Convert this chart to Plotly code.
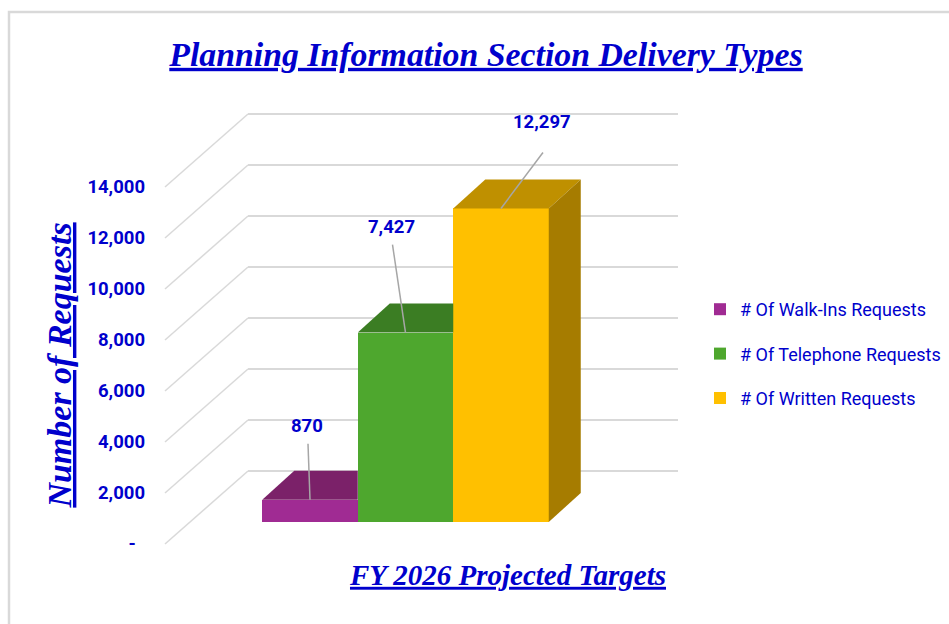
import plotly.graph_objects as go

SERIES = ["# Of Walk-Ins Requests", "# Of Telephone Requests", "# Of Written Requests"]
VALUES = [870, 7427, 12297]
FRONT = ["#A02B93", "#4EA72E", "#FFC000"]
TOP = ["#7B2169", "#3B7D23", "#BF9000"]
SIDE = ["#6E1E63", "#347020", "#A67C00"]
TICKS = [0, 2000, 4000, 6000, 8000, 10000, 12000, 14000]
TICK_TEXT = ["-\u00a0\u00a0", "2,000", "4,000", "6,000", "8,000", "10,000", "12,000", "14,000"]
TITLE = "Planning Information Section Delivery Types"
X_TITLE = "FY 2026 Projected Targets"
Y_TITLE = "Number of Requests"

W, H = 949, 624
ML, MR, MT, MB = 150, 83, 106, 0
ZERO_PX = 544
BLUE = "#0000CC"
SERIF = "Liberation Serif"
SANS = "Roboto"
GRID = "#D9D9D9"

PX_X = 95.5            # pixels per category
PX_Y = 357 / 14000
X0_PX = 310            # pixel of the first bar's centre
ux = lambda px: px / PX_X
uy = lambda px: px / PX_Y
x_of = lambda px: (px - X0_PX) / PX_X
y_of = lambda px: (ZERO_PX - px) / PX_Y

BAR_BASE = uy(22)
BAR_DX, BAR_DY = ux(32), uy(29)
WALL_DX, WALL_DY = ux(83), uy(73)
FLOOR_L, FLOOR_R = x_of(165), x_of(595)

LEADERS = [(-2, -56, -3, -74), (-13, -88, -14, -106), (42, -56, 41, -86)]  # leader end dx,dy; label dx,dy (px)

fig = go.Figure()
n = len(VALUES)
xs = list(range(n))

for i, (name, v) in enumerate(zip(SERIES, VALUES)):
    fig.add_bar(x=[xs[i]], y=[v], base=BAR_BASE, width=1, name=name, marker=dict(color=FRONT[i], line=dict(width=0)),
                legendgroup=name, hoverinfo="name+y")

for i, v in enumerate(VALUES):
    top = BAR_BASE + v
    xl, xr = xs[i] - .5, xs[i] + .5
    hidden = i < n - 1 and VALUES[i + 1] > v
    xr_back = xr if hidden else xr + BAR_DX
    fig.add_scatter(x=[xl, xr, xr_back, xl + BAR_DX, xl], y=[top, top, top + BAR_DY, top + BAR_DY, top],
                    mode="lines", fill="toself", fillcolor=TOP[i], line=dict(width=0), showlegend=False,
                    hoverinfo="skip")
    if not hidden:
        fig.add_scatter(x=[xr, xr + BAR_DX, xr + BAR_DX, xr, xr],
                        y=[top, top + BAR_DY, BAR_BASE + BAR_DY, BAR_BASE, top],
                        mode="lines", fill="toself", fillcolor=SIDE[i], line=dict(width=0), showlegend=False,
                        hoverinfo="skip")

annotations = []
for i, v in enumerate(VALUES):
    top = BAR_BASE + v
    dx, dy, lx, ly = LEADERS[i]
    fig.add_scatter(x=[xs[i], xs[i] + ux(dx)], y=[top, top - uy(dy)], mode="lines",
                    line=dict(color="#A6A6A6", width=1.5), showlegend=False, hoverinfo="skip")
    annotations.append(dict(x=xs[i], y=top, xref="x", yref="y", text=f"<b>{v:,}</b>", showarrow=False,
                            xshift=lx, yshift=-ly, font=dict(family=SANS, size=18.5, color=BLUE)))

shapes = []
for t in TICKS:
    shapes.append(dict(type="line", xref="x", yref="y", x0=FLOOR_L, y0=t, x1=FLOOR_L + WALL_DX, y1=t + WALL_DY,
                       line=dict(color=GRID, width=1.5), layer="below"))
    shapes.append(dict(type="line", xref="x", yref="y", x0=FLOOR_L + WALL_DX, y0=t + WALL_DY, x1=FLOOR_R + WALL_DX,
                       y1=t + WALL_DY, line=dict(color=GRID, width=2), layer="below"))

px = lambda p: (p - ML) / (W - ML - MR)
py = lambda p: 1 - (p - MT) / (H - MT - MB)
shapes.append(dict(type="rect", xref="paper", yref="paper", x0=px(9), x1=px(W + 10), y0=py(H + 10), y1=py(12),
                   line=dict(color="#D9D9D9", width=2.5), layer="below"))

def serif(size):
    return dict(family=SERIF, size=size, color=BLUE, weight="bold", style="italic", lineposition="under")

fig.update_layout(
    width=W, height=H, margin=dict(l=ML, r=MR, t=MT, b=MB, autoexpand=False),
    paper_bgcolor="white", plot_bgcolor="rgba(0,0,0,0)", barmode="overlay", bargap=0,
    title=dict(text=TITLE, font=serif(33.8), x=486 / W, xanchor="center", xref="container",
               y=1 - 54 / H, yanchor="middle"),
    xaxis=dict(range=[x_of(ML), x_of(W - MR)], showgrid=False, zeroline=False, showline=False,
               anchor="free", position=py(ZERO_PX),
               showticklabels=False, ticks="", title=dict(text=X_TITLE, font=serif(29), standoff=20)),
    yaxis=dict(range=[y_of(H - MB), y_of(MT)], tickvals=TICKS, ticktext=TICK_TEXT, showgrid=False, zeroline=False,
               showline=False, ticks="", ticklabelstandoff=4,
               tickfont=dict(family=SANS, size=18.5, color=BLUE, weight="bold"),
               title=dict(text=Y_TITLE, font=serif(34), standoff=5)),
    legend=dict(x=px(700), y=py(291), xanchor="left", yanchor="top", tracegroupgap=18,
                bgcolor="rgba(0,0,0,0)", font=dict(family=SANS, size=18, color=BLUE)),
    shapes=shapes, annotations=annotations,
)
fig.write_html("out.html", config={"displayModeBar": False},
               post_script="document.body.style.margin='0';document.documentElement.style.overflow='hidden';")
